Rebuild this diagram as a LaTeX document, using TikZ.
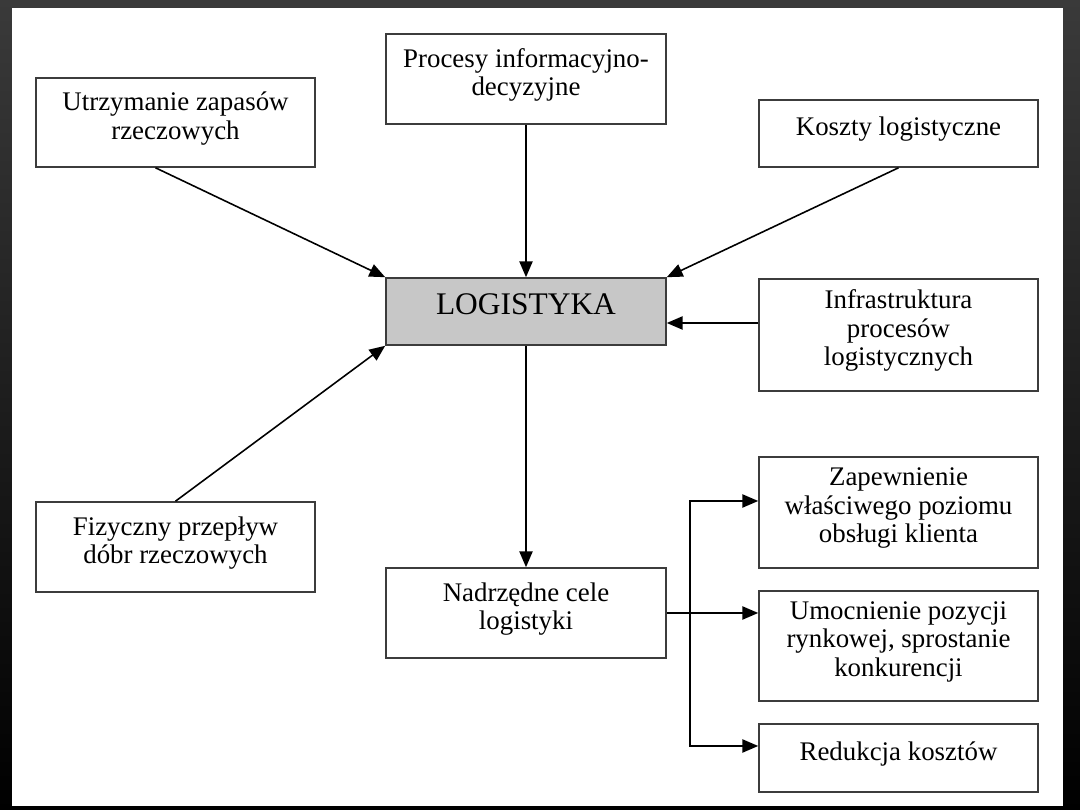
\documentclass[tikz,border=0pt]{standalone}
\usepackage{fontspec}
\setmainfont{Liberation Serif}
\usetikzlibrary{arrows.meta, calc}
\newlength\pxlen
\setlength\pxlen{0.02cm}
\definecolor{framedark}{HTML}{3A3A3A}
\definecolor{boxline}{HTML}{3C3C3C}
\begin{document}
\begin{tikzpicture}[
    x=0.02cm, y=0.02cm,
    box/.style   = {draw=boxline, line width=0.9pt, align=center, inner sep=0pt,
                    minimum width=279\pxlen, minimum height=#1\pxlen,
                    font=\fontsize{15.3}{16.2}\selectfont,
                    execute at end node={\rule[-14\pxlen]{0pt}{0pt}}},
    arrow/.style = {-{Triangle[length=9pt, width=7.5pt]}, line width=0.9pt},
]

%% Frame
\fill[top color=framedark, bottom color=black] (0,0) rectangle (1080,-810);
\fill[white] (12,-8) rectangle (1063,-806);

%% Top row
\node[box=89]  (utrz)  at (175.5,-122.5) {Utrzymanie zapasów\\ rzeczowych};
\node[box=90, minimum width=280\pxlen] (proc) at (526,-79) {Procesy informacyjno-\\ decyzyjne};
\node[box=67]  (koszt) at (898.5,-133.5) {Koszty logistyczne};

%% Centre
\node[box=67, fill=black!22, minimum width=280\pxlen,
      font=\fontsize{17.9}{20}\selectfont] (logi) at (526,-311.5) {LOGISTYKA};
\node[box=112] (infra) at (898.5,-335) {Infrastruktura\\ procesów\\ logistycznych};

%% Bottom
\node[box=90]  (fiz)   at (175.5,-547) {Fizyczny przepływ\\ dóbr rzeczowych};
\node[box=90, minimum width=280\pxlen] (nadrz) at (526,-613) {Nadrzędne cele\\ logistyki};

%% Goals
\node[box=111] (zapew) at (898.5,-512.5) {Zapewnienie\\ właściwego poziomu\\ obsługi klienta};
\node[box=110] (umocn) at (898.5,-646) {Umocnienie pozycji\\ rynkowej, sprostanie\\ konkurencji};
\node[box=68]  (reduk) at (898.5,-758) {Redukcja kosztów};

%% Arrows into LOGISTYKA
\draw[arrow] ($(utrz.south)+(-20,0)$) -- (logi.north west);
\draw[arrow] (proc.south) -- (logi.north);
\draw[arrow] (koszt.south) -- (logi.north east);
\draw[arrow] ($(infra.west)+(0,12)$) coordinate (infraIn) -- (logi.east |- infraIn);
\draw[arrow] (fiz.north) -- (logi.south west);

%% Arrows out
\draw[arrow] (logi.south) -- (nadrz.north);
\draw[arrow] (nadrz.east) coordinate (nadrzOut) -- (nadrzOut -| umocn.west);
\coordinate (bus) at ($(nadrz.east)+(23,0)$);
\draw[arrow] (bus) |- ($(zapew.west)+(0,11.5)$);
\draw[arrow] (bus) |- ($(reduk.west)+(0,12)$);

\end{tikzpicture}
\end{document}
